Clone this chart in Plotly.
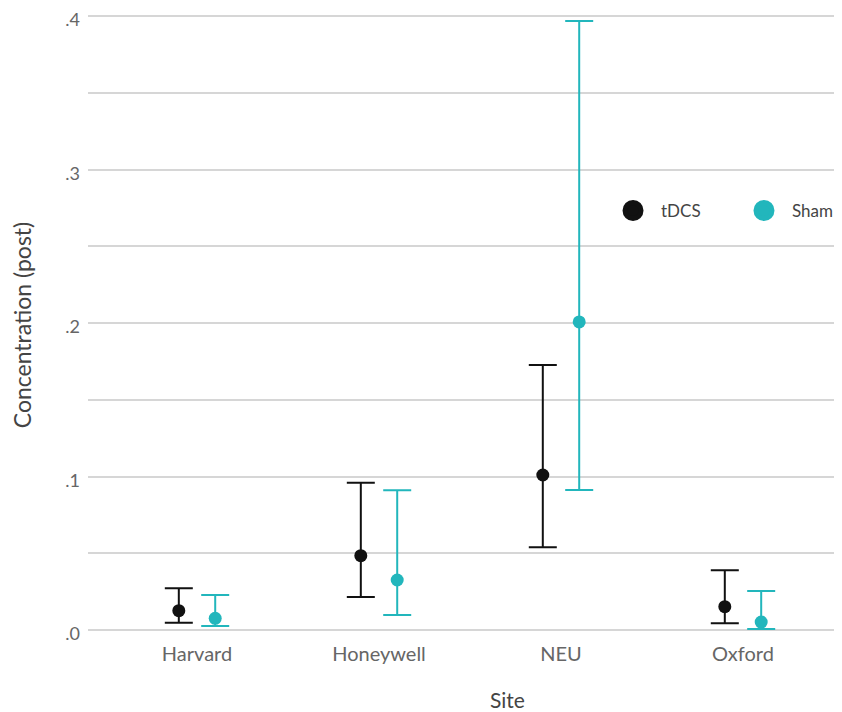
import plotly.graph_objects as go

sites = ["Harvard", "Honeywell", "NEU", "Oxford"]
tdcs_mean = [0.0126, 0.0484, 0.1010, 0.0152]
tdcs_low = [0.0048, 0.0215, 0.0540, 0.0044]
tdcs_high = [0.0272, 0.0960, 0.1726, 0.0389]
sham_mean = [0.0076, 0.0326, 0.2007, 0.0052]
sham_low = [0.0026, 0.0098, 0.0912, 0.0007]
sham_high = [0.0228, 0.0910, 0.3967, 0.0254]

y_tickvals = [0, 0.05, 0.1, 0.15, 0.2, 0.25, 0.3, 0.35, 0.4]
y_ticktext = [".0", "", ".1", "", ".2", "", ".3", "", ".4"]

TDCS_COLOR = "#111111"
SHAM_COLOR = "#22b6bc"
FONT = "Lato"

idx = list(range(len(sites)))
off = 0.1

fig = go.Figure()

def add_series(name, means, lows, highs, color, shift, legend):
    fig.add_trace(go.Scatter(
        x=[i + shift for i in idx], y=means, mode="markers", name=name,
        showlegend=False,
        marker=dict(color=color, size=13),
        error_y=dict(type="data", symmetric=False,
                     array=[h - m for h, m in zip(highs, means)],
                     arrayminus=[m - l for m, l in zip(means, lows)],
                     color=color, thickness=2, width=14),
    ))
    fig.add_trace(go.Scatter(
        x=[None], y=[None], mode="markers", name=name, showlegend=True,
        legend=legend,
        marker=dict(color=color, size=16, line=dict(color=color, width=5)),
    ))

add_series("tDCS", tdcs_mean, tdcs_low, tdcs_high, TDCS_COLOR, -off, "legend")
add_series("Sham", sham_mean, sham_low, sham_high, SHAM_COLOR, off, "legend2")

leg_common = dict(orientation="h", xanchor="left", yanchor="middle",
                  font=dict(size=17, color="#444444", family=FONT),
                  itemsizing="trace", itemwidth=46, bgcolor="rgba(0,0,0,0)")

fig.update_layout(
    width=834, height=704,
    margin=dict(l=80, r=0, t=2, b=72, autoexpand=False),
    paper_bgcolor="white", plot_bgcolor="white",
    font=dict(family=FONT, color="#444444"),
    showlegend=True,
    legend=dict(x=0.6857, y=0.681, **leg_common),
    legend2=dict(x=0.8594, y=0.681, **leg_common),
    xaxis=dict(range=[-0.599, 3.544], tickvals=idx, ticktext=sites,
               showgrid=False, zeroline=False, showline=False, ticks="",
               automargin=False,
               tickfont=dict(size=20, color="#666666", family=FONT)),
    yaxis=dict(range=[-0.0065, 0.4039], tickvals=y_tickvals, ticktext=y_ticktext,
               showgrid=True, gridcolor="#d6d6d6", gridwidth=1.5,
               zeroline=False, showline=False, ticks="", ticklabelstandoff=7,
               ticklabelshift=4,
               ticklabeloverflow="allow", automargin=False,
               tickfont=dict(size=18, color="#666666", family=FONT),
               title=dict(text="Concentration (post)", font=dict(size=23, color="#444444", family=FONT), standoff=27)),
    annotations=[dict(text="Site", xref="paper", yref="paper", x=0.557, y=-0.0952,
                      xanchor="center", yanchor="middle", showarrow=False,
                      font=dict(size=21, color="#444444", family=FONT))],
)

fig.write_html("out.html")
